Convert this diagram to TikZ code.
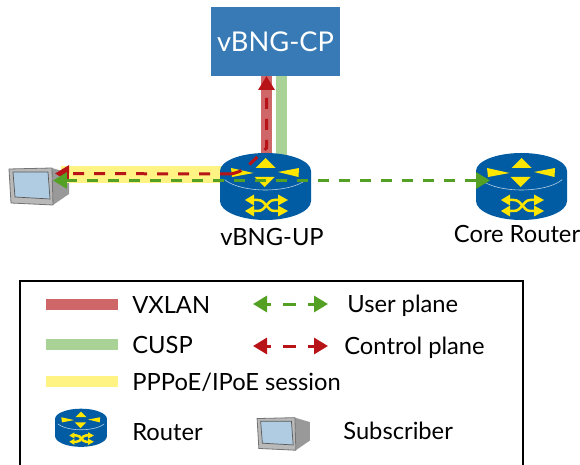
\documentclass[tikz,border=0pt]{standalone}
\usepackage{fontspec}
\setmainfont{Lato}
\usetikzlibrary{arrows.meta}

\definecolor{boxblue}{HTML}{377AB5}
\definecolor{routerblue}{HTML}{015CA4}
\definecolor{routeryellow}{HTML}{FFE600}
\definecolor{vxlanred}{HTML}{CF6668}
\definecolor{cuspgreen}{HTML}{A9D296}
\definecolor{pppyellow}{HTML}{FFF383}
\definecolor{userarrow}{HTML}{53A024}
\definecolor{ctrlarrow}{HTML}{B81317}
\definecolor{screenblue}{HTML}{B0CCE2}

\tikzset{
  % tunnels
  mybar/.style={line width=0.22cm, draw=#1},
  % dashed arrows
  myflow/.style={line width=0.06cm, draw=#1, dash pattern=on 0.22cm off 0.2cm},
  mylegflow/.style={line width=0.06cm, draw=#1, dash pattern=on 0.26cm off 0.24cm, dash phase=0.16cm},
  mytip/.style={-{Triangle[length=0.28cm,width=0.32cm,fill=#1]}},
  mytips/.style={{Triangle[length=0.28cm,width=0.32cm,fill=#1]}-{Triangle[length=0.28cm,width=0.32cm,fill=#1]}},
  mylabel/.style={font=\fontsize{13.5}{13.5}\selectfont, inner sep=0pt},
  myyellow/.style={fill=routeryellow, draw=none},
  router/.pic={
    \fill[routerblue] (-45.5,-15) -- (-45.5,15) arc [start angle=180, end angle=0, x radius=45.5, y radius=19]
      -- (45.5,-15) arc [start angle=0, end angle=-180, x radius=45.5, y radius=18];
    \draw[white!70!routerblue, line width=0.012cm] (-40.8,-6.4) arc [start angle=155, end angle=25, x radius=45, y radius=18];
    % frecce sopra
    \path[myyellow] (-10,-18) -- (0,-28) -- (10,-18) -- cycle;
    \path[myyellow] (-11,-9) -- (-1,1) -- (9,-9) -- cycle;
    \path[myyellow] (-34.5,-18) -- (-12,-13) -- (-33.5,-9) -- cycle;
    \path[myyellow] (33.5,-18) -- (12.5,-14) -- (33,-9) -- cycle;
    % frecce incrociate
    \draw[routeryellow, line width=0.05cm] (-12,14) -- (-8,14) .. controls (1,14) and (1,25) .. (9,25) -- (13,25);
    \draw[routeryellow, line width=0.05cm] (-12,25) -- (-8,25) .. controls (1,25) and (1,14) .. (9,14) -- (13,14);
    \foreach \y in {14,25} {
      \path[myyellow] (-11.5,\y-5.5) -- (-20.5,\y) -- (-11.5,\y+5.5) -- cycle;
      \path[myyellow] (12.5,\y-5.5) -- (22.5,\y) -- (12.5,\y+5.5) -- cycle;
    }
  },
  subscriber/.pic={
    \fill[gray!80] (13,-18) -- (30,-13) -- (30,8) -- (14,19) -- cycle;
    \fill[gray!55] (-30,-17) -- (13,-18) -- (14,19) -- (-28,17) -- cycle;
    \draw[gray!90!black, line width=0.016cm] (-30,-17) -- (13,-18) -- (14,19) -- (-28,17) -- cycle;
    \fill[screenblue, draw=gray!70!black, line width=0.014cm] (-26,-14) -- (9,-14) -- (11,13) -- (-24,11) -- cycle;
  }
}

\begin{document}
\begin{tikzpicture}[x=0.02cm,y=-0.02cm]
\useasboundingbox (0,0) rectangle (580,465);

% vBNG-CP e router
\node[fill=boxblue, minimum width=2.58cm, minimum height=1.38cm, inner sep=0pt, text=white, font=\fontsize{15.5}{15.5}\selectfont] (cp) at (275.5,41.5) {vBNG-CP};

\coordinate (up) at (265.5,186);
\coordinate (core) at (521.5,186);
\coordinate (sub) at (39,186);

% segmenti colorati
\coordinate (vxlantop) at (266.5,76);
\coordinate (vxlanend) at (266.5,156);
\coordinate (cusptop) at (281.5,76);
\coordinate (cuspend) at (281.5,156);
\coordinate (pppstart) at (61,174.5);
\coordinate (pppend) at (224,174.5);
\draw[mybar=vxlanred] (vxlanend) -- (vxlantop);
\draw[mybar=cuspgreen] (cuspend) -- (cusptop);
\path (sub) pic {subscriber};
\draw[line width=0.34cm, draw=pppyellow] (pppstart) -- (pppend);

\path (up) pic {router};
\path (core) pic {router};

% frecce
\coordinate (ctrlleft) at (55,173.5);
\coordinate (ctrlbend) at (231,174);
\coordinate (userleft) at (53,180.5);
\coordinate (userright) at (490,180.5);
\draw[myflow=ctrlarrow, mytip=ctrlarrow] (ctrlbend) -- (ctrlleft);
\draw[myflow=ctrlarrow, mytip=ctrlarrow] (ctrlbend) .. controls (243,171) .. (266.5,148) -- (vxlantop);
\draw[myflow=userarrow, mytips=userarrow] (userleft) -- (userright);

\node[mylabel] (uplabel) at (272,237) {vBNG-UP};
\node[mylabel] (corelabel) at (517,234) {Core Router};

% legenda
\coordinate (lgbl) at (20,466);
\coordinate (lgtl) at (20,281);
\coordinate (lgtr) at (523,281);
\coordinate (lgbr) at (523,466);
\draw[line width=0.044cm] (lgbl) -- (lgtl) -- (lgtr) -- (lgbr);

\foreach \name/\col/\y in {a/vxlanred/304.5,b/cuspgreen/344.5,c/pppyellow/381.5} {
  \coordinate (bar\name l) at (46,\y);
  \coordinate (bar\name r) at (118,\y);
  \draw[mybar=\col] (bar\name l) -- (bar\name r);
}
\foreach \name/\x/\y/\txt in {va/132/305/VXLAN,cu/132/345/CUSP,pp/132/382/PPPoE\slash IPoE session,ro/132/432/Router,us/343/431/Subscriber,up/347/306/User plane,co/344/348/Control plane}
  \node[mylabel, anchor=west] (lg\name) at (\x,\y) {\txt};

\coordinate (usera) at (253,304);
\coordinate (userb) at (328,304);
\coordinate (ctrla) at (253,346);
\coordinate (ctrlb) at (328,346);
\draw[mylegflow=userarrow, mytips=userarrow] (usera) -- (userb);
\draw[mylegflow=ctrlarrow, mytips=ctrlarrow] (ctrla) -- (ctrlb);

\path (81,427.5) pic[scale=0.57] {router};
\path (283.5,433.5) pic[scale=0.88] {subscriber};

\end{tikzpicture}
\end{document}
